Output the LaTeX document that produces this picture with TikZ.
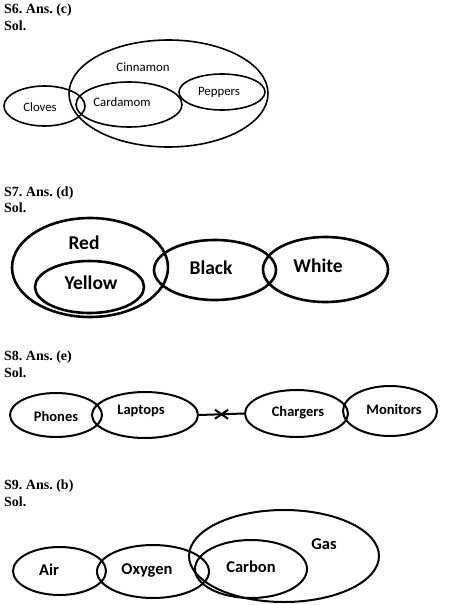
\documentclass[tikz,border=0pt]{standalone}
\usepackage{fontspec}
\setmainfont{Liberation Serif}
\newfontfamily\lblfont{Carlito}
\usetikzlibrary{shapes.geometric,shapes.misc}
\frenchspacing
\begin{document}
\begin{tikzpicture}[x=1pt,y=-1pt,
  hdr/.style={anchor=west,inner sep=0pt,font=\bfseries\fontsize{14}{16}\selectfont},
  ell/.style={draw,ellipse,inner sep=0pt,minimum width=2*#1},
  sixlbl/.style={inner sep=0pt,font=\lblfont\fontsize{12.8}{14}\selectfont},
  sevlbl/.style={inner sep=0pt,font=\lblfont\bfseries\fontsize{19.5}{22}\selectfont},
  eiglbl/.style={inner sep=0pt,font=\lblfont\bfseries\fontsize{14.5}{16}\selectfont},
  ninlbl/.style={inner sep=0pt,font=\lblfont\bfseries\fontsize{16.5}{18}\selectfont},
  w6/.style={line width=1.6pt},
  w7/.style={line width=2.6pt},
  w8/.style={line width=2pt},
  w9/.style={line width=2pt}]
\useasboundingbox (0,0) rectangle (467,605);
% ---------- S6
\node[hdr] (h6) at (4,10) {S6. Ans. (c)};
\node[hdr] (s6) at (4,26) {Sol.};
\node[ell=40.5, minimum height=40, w6] (cloves) at (44.5,106) {};
\node[ell=99.5, minimum height=107, w6] (cinnamon) at (168.5,93.5) {};
\node[ell=53, minimum height=45, w6] (cardamom) at (129,104.5) {};
\node[ell=43, minimum height=36, w6] (peppers) at (222,92) {};
\node[sixlbl] (tcloves) at (40,107) {Cloves};
\node[sixlbl] (tcinnamon) at (143,67) {Cinnamon};
\node[sixlbl] (tcardamom) at (122,102) {Cardamom};
\node[sixlbl] (tpeppers) at (219,92) {Peppers};
% ---------- S7
\node[hdr] (h7) at (4,193) {S7. Ans. (d)};
\node[hdr] (s7) at (4,208) {Sol.};
\node[ell=78, minimum height=99, w7] (red) at (90,267.5) {};
\node[ell=54.5, minimum height=52, w7] (yellow) at (89.5,287) {};
\node[ell=61, minimum height=60, w7] (black) at (215,270) {};
\node[ell=62.5, minimum height=65, w7] (white) at (325.5,269.5) {};
\node[sevlbl] (tred) at (84,243) {Red};
\node[sevlbl] (tyellow) at (91,283) {Yellow};
\node[sevlbl] (tblack) at (211,268) {Black};
\node[sevlbl] (twhite) at (318,266) {White};
% ---------- S8
\node[hdr] (h8) at (4,357) {S8. Ans. (e)};
\node[hdr] (s8) at (4,373) {Sol.};
\node[ell=46, minimum height=44, w8] (phones) at (56,415) {};
\node[ell=53, minimum height=46, w8] (laptops) at (145,415) {};
\node[ell=51.5, minimum height=47, w8] (chargers) at (296.5,413.5) {};
\node[ell=47, minimum height=50, w8] (monitors) at (390,411) {};
\node[eiglbl] (tphones) at (56,416) {Phones};
\node[eiglbl] (tlaptops) at (141,411) {Laptops};
\node[eiglbl] (tchargers) at (298,413) {Chargers};
\node[eiglbl] (tmonitors) at (394,409) {Monitors};
\draw[w8] (laptops.east) -- node[cross out,draw,line width=2pt,minimum width=11pt,minimum height=7pt,inner sep=0pt] (xmark) {} (chargers.west);
% ---------- S9
\node[hdr] (h9) at (4,486) {S9. Ans. (b)};
\node[hdr] (s9) at (4,502) {Sol.};
\node[ell=46.5, minimum height=48, w9] (air) at (59.5,571) {};
\node[ell=56, minimum height=53, w9] (oxygen) at (153,571.5) {};
\node[ell=95, minimum height=92, w9] (gas) at (284,556) {};
\node[ell=56, minimum height=58, w9] (carbon) at (251,569) {};
\node[ninlbl] (tair) at (49,570) {Air};
\node[ninlbl] (toxygen) at (147,570) {Oxygen};
\node[ninlbl] (tcarbon) at (251,567) {Carbon};
\node[ninlbl] (tgas) at (324,544) {Gas};
\end{tikzpicture}
\end{document}
